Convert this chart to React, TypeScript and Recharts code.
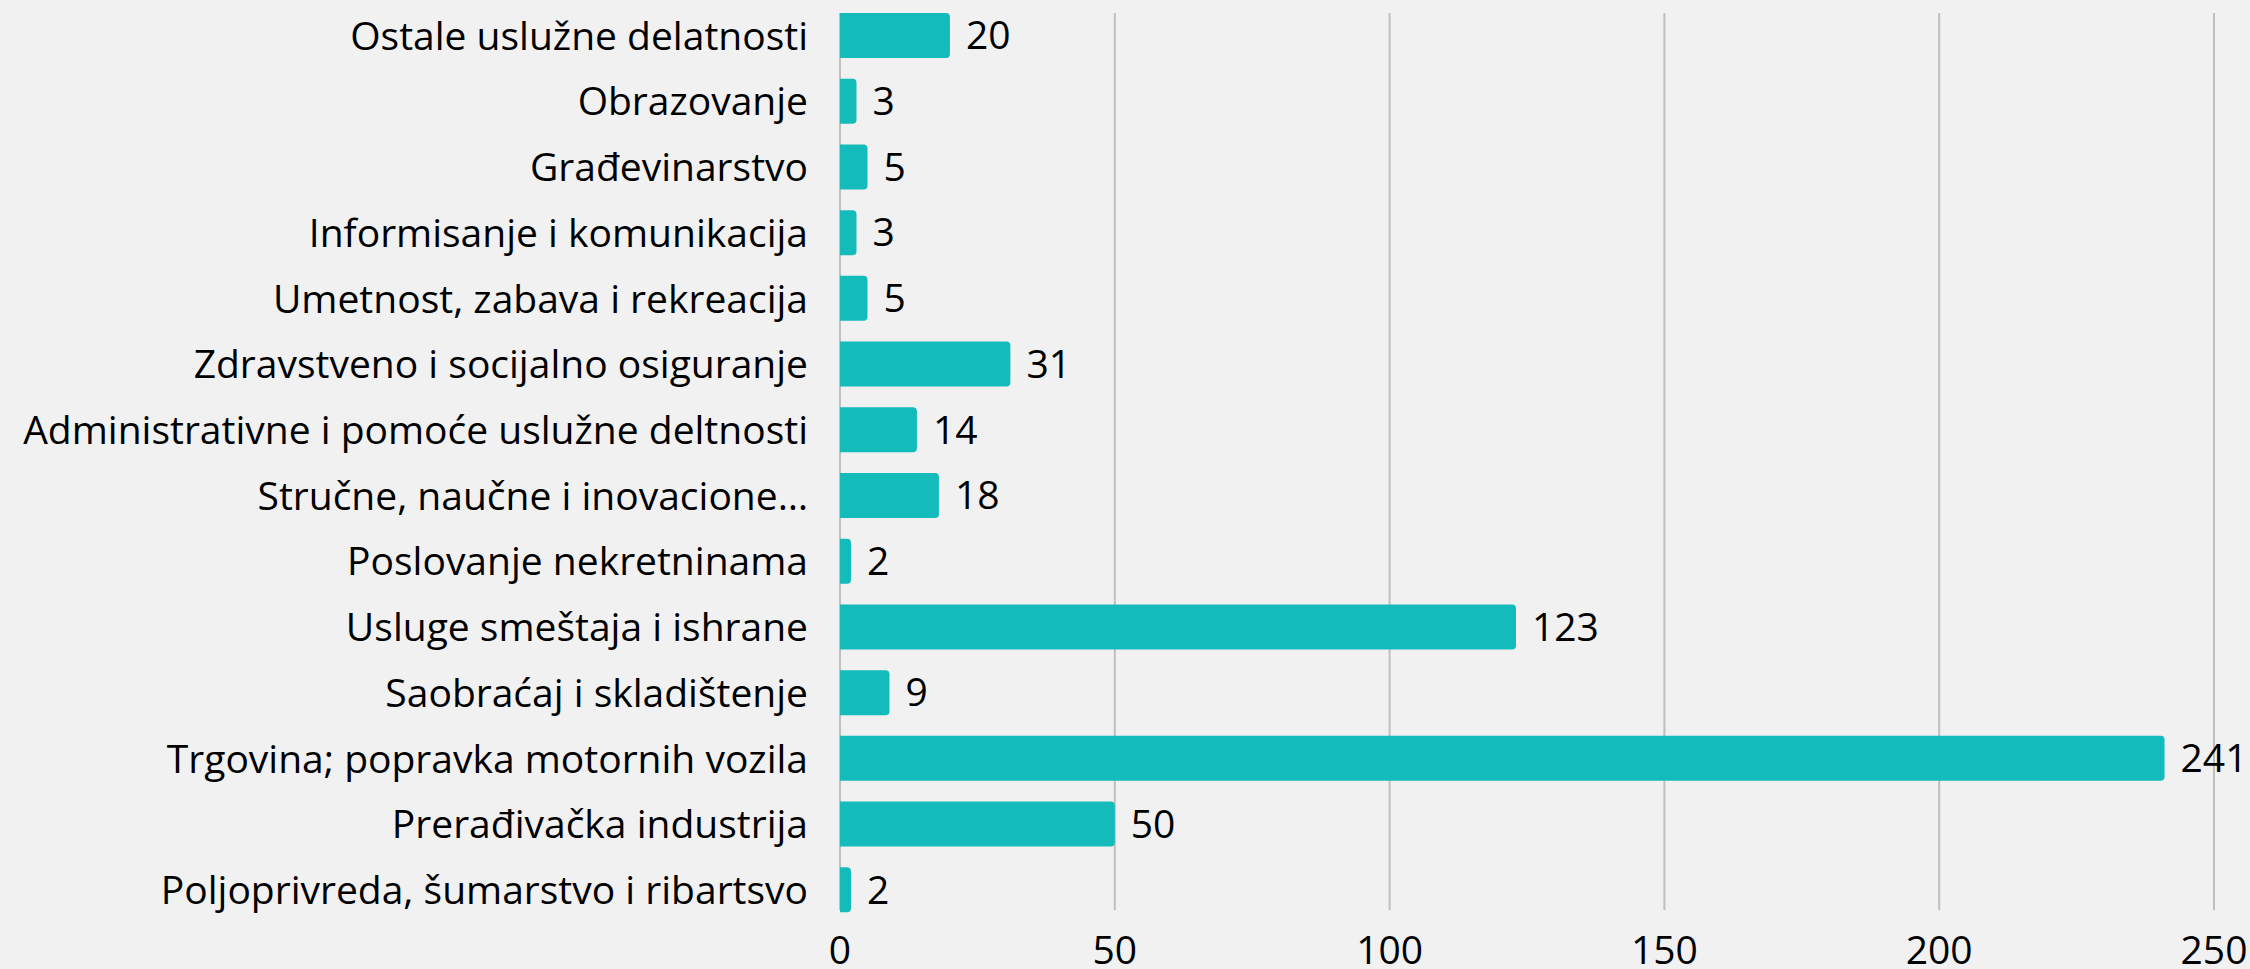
import React from "react";
import { BarChart, Bar, XAxis, YAxis, CartesianGrid, LabelList } from "recharts";

const categories = [
  "Ostale uslužne delatnosti",
  "Obrazovanje",
  "Građevinarstvo",
  "Informisanje i komunikacija",
  "Umetnost, zabava i rekreacija",
  "Zdravstveno i socijalno osiguranje",
  "Administrativne i pomoće uslužne deltnosti",
  "Stručne, naučne i inovacione…",
  "Poslovanje nekretninama",
  "Usluge smeštaja i ishrane",
  "Saobraćaj i skladištenje",
  "Trgovina; popravka motornih vozila",
  "Prerađivačka industrija",
  "Poljoprivreda, šumarstvo i ribartsvo",
];
const values = [20, 3, 5, 3, 5, 31, 14, 18, 2, 123, 9, 241, 50, 2];
const xTicks = [0, 50, 100, 150, 200, 250];

const data = categories.map((name, i) => ({ name, value: values[i] }));

const FONT = "'Open Sans', sans-serif";
const FS = 39;
const BG = "#F1F1F1";
const BAR = "#14BBBB";
const GRID = "#BFBFBF";

const GridLine = (props: any) => {
  const { x1, x2, y1, y2 } = props;
  return <line x1={x1} x2={x2} y1={y1 + 10} y2={y2 - 13} stroke={GRID} strokeWidth={2} />;
};

export default function App() {
  return (
    <div style={{ position: "absolute", left: 0, top: 0, width: 2250, height: 969, background: BG }}>
      <BarChart
        width={2250}
        height={969}
        data={data}
        layout="vertical"
        margin={{ top: 3, right: 36, bottom: 0, left: 0 }}
        barSize={45}
      >
        <CartesianGrid horizontal={false} vertical={GridLine as any} />
        <XAxis
          type="number"
          domain={[0, 250]}
          ticks={xTicks}
          axisLine={false}
          tickLine={false}
          tickSize={0}
          tickMargin={13}
          height={46}
          interval={0}
          tick={{ fill: "#000", fontSize: FS, fontFamily: FONT }}
        />
        <YAxis
          type="category"
          dataKey="name"
          width={840}
          axisLine={false}
          tickLine={false}
          tickSize={0}
          tickMargin={32}
          interval={0}
          tick={{ fill: "#000", fontSize: FS, fontFamily: FONT }}
        />
        <Bar dataKey="value" fill={BAR} radius={[0, 4, 4, 0]} isAnimationActive={false}>
          <LabelList
            dataKey="value"
            position="right"
            offset={16}
            fill="#000"
            style={{ fontSize: FS, fontFamily: FONT }}
          />
        </Bar>
      </BarChart>
    </div>
  );
}
